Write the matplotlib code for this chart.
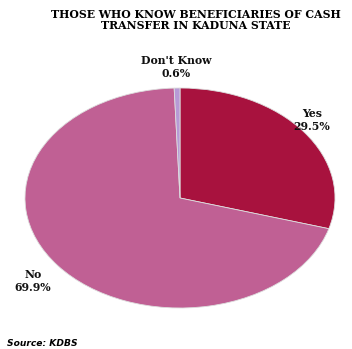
import matplotlib
matplotlib.use("Agg")
import matplotlib.pyplot as plt

labels = ["Yes", "No", "Don't Know"]
shares = [29.5, 69.9, 0.6]
colors = ["#a8123e", "#c06094", "#b79ad6"]
title = "THOSE WHO KNOW BENEFICIARIES OF CASH\nTRANSFER IN KADUNA STATE"
source = "Source: KDBS"

W, H = 352, 349
fig = plt.figure(figsize=(W / 100, H / 100), dpi=100)
fig.patch.set_facecolor("white")

# pie is stretched into an ellipse (x 25..335, y 88..308 px)
ax = fig.add_axes([25 / W, 1 - 308 / H, 310 / W, 220 / H])
ax.pie(shares, colors=colors, startangle=90, counterclock=False,
       wedgeprops=dict(linewidth=0.6, edgecolor="#dddddd"))
ax.set_aspect("auto")
ax.set_xlim(-1, 1)
ax.set_ylim(-1, 1)
ax.axis("off")

lab_font = dict(family="DejaVu Serif", fontweight="heavy", fontsize=7.8,
                ha="center", va="center", color="#111111", linespacing=1.3)
pos = {"Yes": (312, 120), "No": (33, 281), "Don't Know": (176, 67)}
for lab, val in zip(labels, shares):
    px, py = pos[lab]
    fig.text(px / W, 1 - py / H, f"{lab}\n{val:.1f}%", **lab_font)

fig.text(196 / W, 1 - 20 / H, title, family="DejaVu Serif", fontweight="heavy",
         fontsize=7.8, ha="center", va="center", linespacing=1.05, color="black")
fig.text(7 / W, 1 - 343 / H, source, family="DejaVu Sans", fontweight="bold",
         style="italic", fontsize=6.6, ha="left", va="center", color="black")

fig.savefig("out.png", dpi=100, facecolor="white")
